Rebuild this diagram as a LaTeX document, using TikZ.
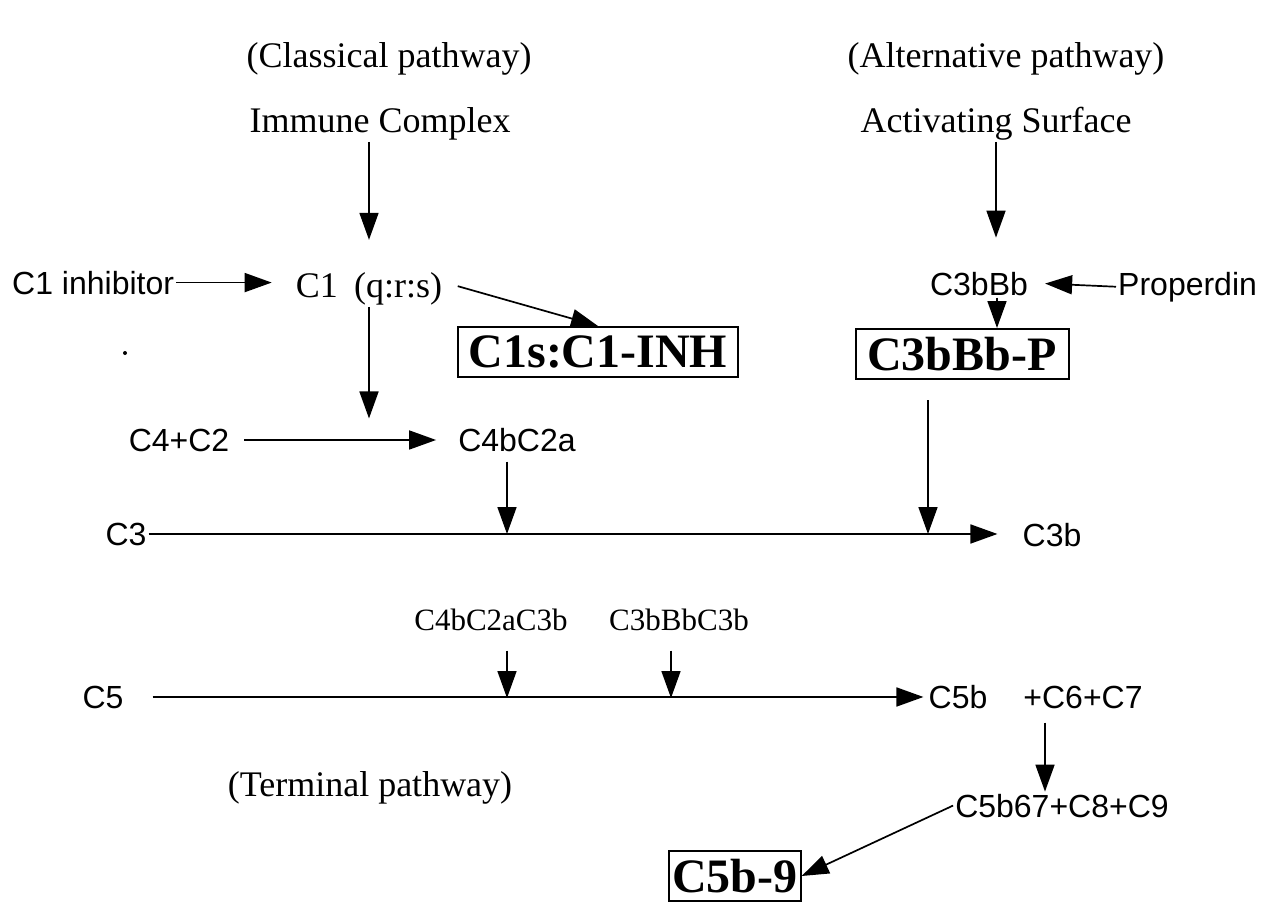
\documentclass[tikz,border=0pt]{standalone}
\usepackage{fontspec}
\setmainfont{Liberation Serif}
\newfontfamily\helvfont{Liberation Sans}
\usetikzlibrary{arrows.meta,positioning}

\tikzset{
    roman/.style={font=\fontsize{36}{40}\selectfont, inner sep=2pt, anchor=base},
    romanSmall/.style={font=\fontsize{31}{34}\selectfont, inner sep=2pt, anchor=base},
    helv/.style={font=\helvfont\fontsize{32}{36}\selectfont, inner sep=2pt, anchor=base},
    product/.style={draw, line width=2pt, font=\fontsize{48}{50}\selectfont\bfseries,
        inner xsep=3pt, minimum height=50pt},
    react/.style={-{Triangle[length=27pt,width=19pt]}, line width=1.7pt},
}

\begin{document}
\begin{tikzpicture}[x=1pt, y=-1pt]
    \useasboundingbox (0,0) rectangle (1275,908);

    % headings
    \node[roman] (classical) at (389,67) {(Classical pathway)};
    \node[roman] (alternative) at (1006,67) {(Alternative pathway)};
    \node[roman] (terminal) at (370,796) {(Terminal pathway)};

    % classical pathway
    \node[roman] (immune) at (380,132) {Immune Complex};
    \node[roman] (c1) at (369,297) {C1\hspace{0.45em}(q:r:s)};
    \node[helv, anchor=base west] (c1Inhibitor) at (10,294) {C1 inhibitor};
    \node[product, minimum width=280pt] (c1sInh) at (598,352) {C1s:C1-INH};
    \node[helv] (c4c2) at (179,451) {C4+C2};
    \node[helv] (c4bC2a) at (517,451) {C4bC2a};

    % alternative pathway
    \node[roman] (activating) at (996,132) {Activating Surface};
    \node[helv] (c3bBb) at (979,295) {C3bBb};
    \node[helv, anchor=base west] (properdin) at (1116,295) {Properdin};
    \node[product, minimum width=213pt] (c3bBbP) at (962,354) {C3bBb-P};

    % C3 cleavage
    \node[helv] (c3) at (126,545) {C3};
    \node[helv] (c3b) at (1052,546) {C3b};
    \coordinate (c3Cut1) at (507,534);
    \coordinate (c3Cut2) at (928,534);

    % C5 convertases and terminal pathway
    \node[romanSmall] (c4bC2aC3b) at (491,630) {C4bC2aC3b};
    \node[romanSmall] (c3bBbC3b) at (679,630) {C3bBbC3b};
    \node[helv] (c5) at (103,708) {C5};
    \node[helv] (c5b) at (958,708) {C5b};
    \node[helv] (c6c7) at (1083,708) {+C6+C7};
    \node[helv] (c5b67) at (1062,817) {C5b67+C8+C9};
    \node[product] (c5b9) at (735,876) {C5b-9};
    \coordinate (c5Cut1) at (507,698);
    \coordinate (c5Cut2) at (671,698);

    \fill (125,353) circle (2pt);

    % classical arrows
    \draw[react, shorten >=30pt] (immune.south -| c1) -- (c1.north);
    \draw[react, shorten >=22pt] (c1Inhibitor.east) -- (c1Inhibitor.east -| c1.west);
    \draw[react, shorten <=14pt] ([yshift=6pt]c1.east) -- (c1sInh.north);
    \draw[react, shorten >=8pt] (c1.south) -- (c1.south |- c4c2.north);
    \draw[react, shorten <=13pt, shorten >=20pt] (c4c2.east) -- (c4c2.east -| c4bC2a.west);
    \draw[react, shorten <=8pt] (c4bC2a.south -| c3Cut1) -- (c3Cut1);

    % alternative arrows
    \draw[react, shorten >=32pt] (activating.south) -- (activating.south |- c3bBb.north);
    \draw[react] (properdin.west) -- ([xshift=15pt]c3bBb.east);
    \draw[react] ([xshift=18pt]c3bBb.south) -- ([xshift=18pt]c3bBb.south |- c3bBbP.north);
    \draw[react, shorten <=20pt] (c3bBbP.south -| c3Cut2) -- (c3Cut2);

    % C3 and C5 lines
    \draw[react, shorten >=23pt] (c3.east) -- (c3.east -| c3b.west);
    \draw[react, shorten <=18pt] (c4bC2aC3b.south -| c5Cut1) -- (c5Cut1);
    \draw[react, shorten <=18pt] (c3bBbC3b.south -| c5Cut2) -- (c5Cut2);
    \draw[react, shorten <=27pt, shorten >=3pt] (c5.east) -- (c5.east -| c5b.west);
    \draw[react, shorten <=12pt] ([xshift=-38pt]c6c7.south) -- ([xshift=-38pt]c6c7.south |- c5b67.north);
    \draw[react] (c5b67.west) -- (c5b9.east);
\end{tikzpicture}
\end{document}
